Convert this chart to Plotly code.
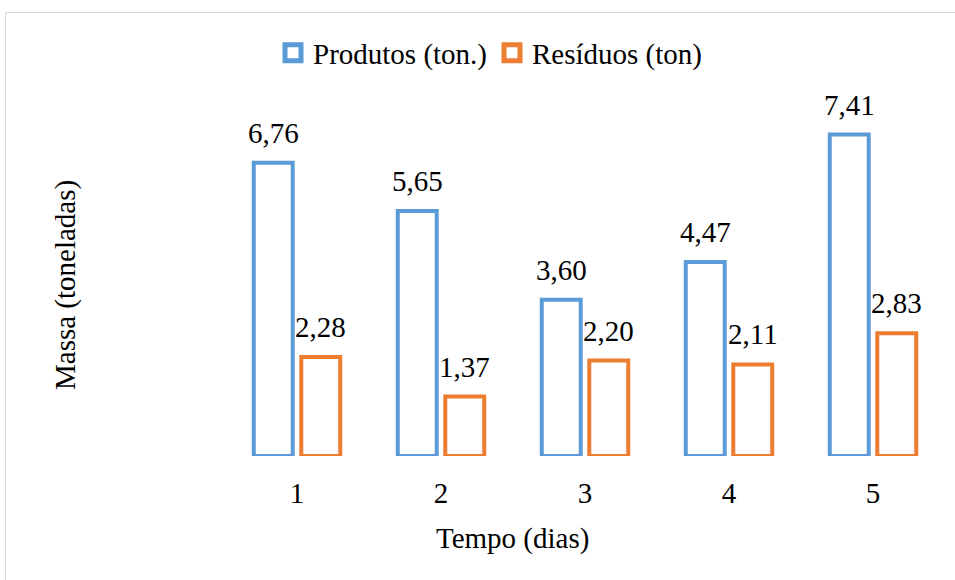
import plotly.graph_objects as go

days = [1, 2, 3, 4, 5]
tick_labels = ["1", "2", "3", "4", "5"]
produtos = [6.76, 5.65, 3.60, 4.47, 7.41]
residuos = [2.28, 1.37, 2.20, 2.11, 2.83]

FONT = "Liberation Serif"
FS = 29
BLUE = "#5B9BD5"
ORANGE = "#ED7D31"
BARGAP = 0.34

# plot area in pixels
L, R, T, B = 225, 945, 109, 456
W, H = 955, 580

def px(x):
    return (x - L) / (R - L)

def py(y):
    return (B - y) / (B - T)

def fmt(v):
    return f"{v:.2f}".replace(".", ",")

fig = go.Figure()
series = [("Produtos (ton.)", produtos, BLUE), ("Resíduos (ton)", residuos, ORANGE)]
for name, vals, col in series:
    fig.add_trace(go.Bar(
        x=days, y=vals, name=name, showlegend=False,
        marker=dict(color="white", line=dict(color=col, width=4)),
        cliponaxis=False,
    ))
# legend-only entries (larger square symbols)
for name, vals, col in series:
    fig.add_trace(go.Scatter(
        x=[None], y=[None], name=name, mode="markers",
        marker=dict(symbol="square", size=16, color="white",
                    line=dict(color=col, width=5)),
    ))

# value labels above the bars
slot = (1 - BARGAP) / 2
annotations = []
for k, (name, vals, col) in enumerate(series):
    off = (k - 0.5) * slot
    for d, v in zip(days, vals):
        annotations.append(dict(
            x=d + off, y=v, xref="x", yref="y", text=fmt(v),
            showarrow=False, xanchor="center", yanchor="bottom", yshift=12,
            font=dict(family=FONT, size=FS, color="#000000"),
        ))

annotations += [
    dict(text="Tempo (dias)", xref="paper", yref="paper",
         x=px(512), y=py(538), xanchor="center", yanchor="middle",
         showarrow=False, font=dict(family=FONT, size=FS, color="#000000")),
    dict(text="Massa (toneladas)", xref="paper", yref="paper",
         x=px(65), y=py(285), xanchor="center", yanchor="middle",
         textangle=-90, showarrow=False,
         font=dict(family=FONT, size=FS, color="#000000")),
]

fig.update_layout(
    width=W, height=H,
    margin=dict(l=L, r=W - R, t=T, b=H - B),
    paper_bgcolor="white", plot_bgcolor="white",
    barmode="group", bargap=BARGAP, bargroupgap=0.18,
    font=dict(family=FONT, size=FS, color="#000000"),
    showlegend=True,
    legend=dict(orientation="h", x=px(490), xanchor="center",
                y=py(53), yanchor="middle",
                font=dict(family=FONT, size=FS, color="#000000"),
                itemwidth=30, tracegroupgap=0),
    xaxis=dict(range=[0.5, 5.5], tickmode="array", tickvals=days, ticktext=tick_labels,
               showgrid=False, showline=False, zeroline=False,
               ticks="", ticklabelstandoff=17,
               tickfont=dict(family=FONT, size=FS, color="#000000")),
    yaxis=dict(range=[0, 8], showgrid=False, showline=False, zeroline=False,
               showticklabels=False, ticks=""),
    annotations=annotations,
    shapes=[
        dict(type="rect", xref="paper", yref="paper",
             x0=px(5.5), x1=px(965), y0=py(12.5), y1=py(600),
             line=dict(color="#D9D9D9", width=1), fillcolor="rgba(0,0,0,0)",
             layer="below"),
    ],
)

fig.write_html("out.html")
